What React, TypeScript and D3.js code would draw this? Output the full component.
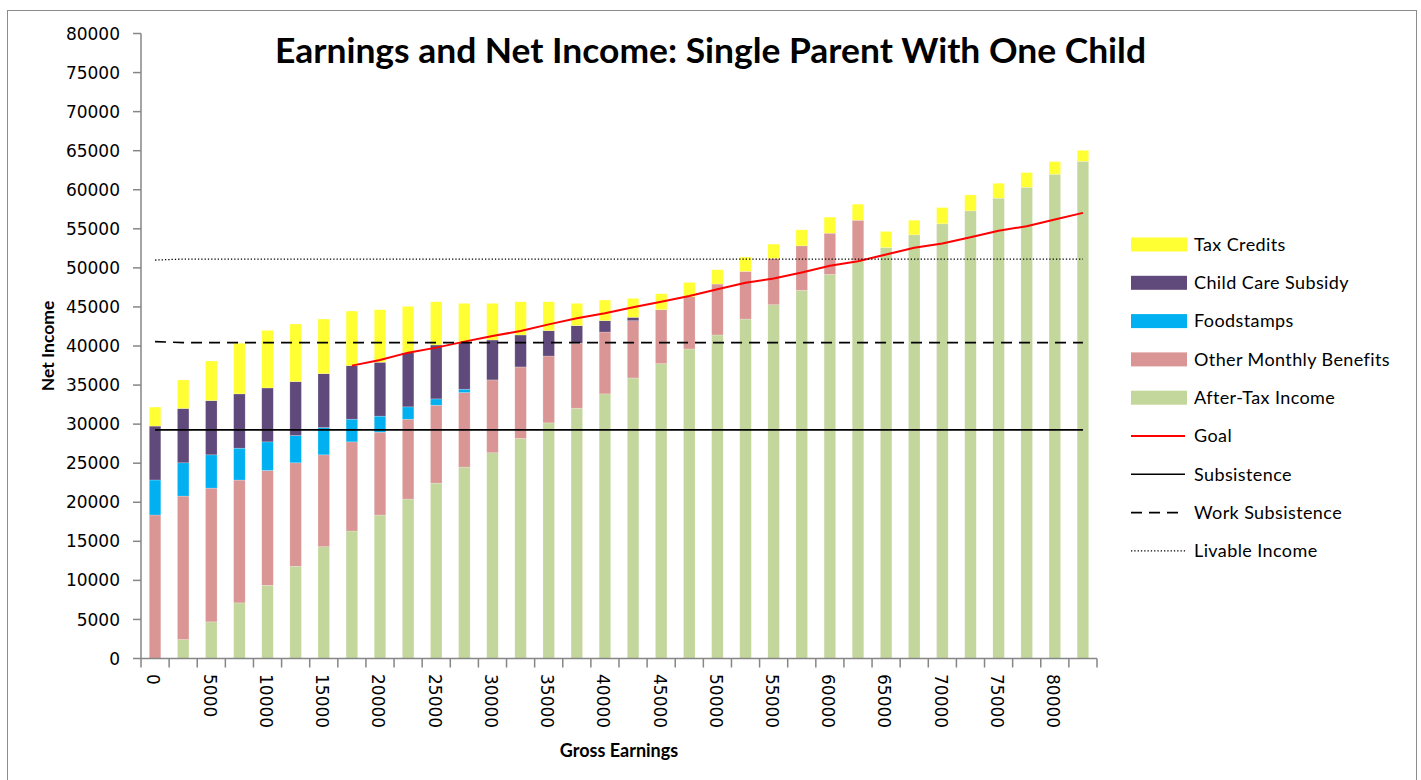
import React from 'react';
import * as d3 from 'd3';

// gross earnings categories
const earnings = [
  0, 2500, 5000, 7500, 10000, 12500, 15000, 17500, 20000, 22500, 25000, 27500,
  30000, 32500, 35000, 37500, 40000, 42500, 45000, 47500, 50000, 52500, 55000,
  57500, 60000, 62500, 65000, 67500, 70000, 72500, 75000, 77500, 80000, 82500
];

const xTickLabels = [
  0, 5000, 10000, 15000, 20000, 25000, 30000, 35000, 40000,
  45000, 50000, 55000, 60000, 65000, 70000, 75000, 80000
];

const yTicks = [
  0, 5000, 10000, 15000, 20000, 25000, 30000, 35000, 40000,
  45000, 50000, 55000, 60000, 65000, 70000, 75000, 80000
];

// stacked series, bottom to top
const afterTax = [
  0, 2430, 4690, 7120, 9370, 11800, 14310, 16320, 18360, 20410, 22450, 24500,
  26330, 28160, 30160, 32040, 33870, 35910, 37740, 39620, 41410, 43450, 45280,
  47120, 49160, 50950, 52610, 54230, 55640, 57300, 58920, 60320, 61980, 63640
];
const otherBenefits = [
  18370, 18360, 17120, 15720, 14700, 13250, 11760, 11410, 10610, 10220, 9970, 9540,
  9330, 9160, 8560, 8310, 7920, 7330, 6900, 6680, 6520, 6100, 5930,
  5700, 5280, 5150, 0, 0, 0, 0, 0, 0, 0, 0
];
const foodstamps = [
  4480, 4260, 4260, 4080, 3660, 3490, 3490, 2900, 2050, 1580, 810, 430,
  0, 0, 0, 0, 0, 0, 0, 0, 0, 0, 0,
  0, 0, 0, 0, 0, 0, 0, 0, 0, 0, 0
];
const childCare = [
  6900, 6950, 6940, 6950, 6900, 6900, 6900, 6860, 6900, 6940, 6900, 5960,
  5110, 4090, 3240, 2250, 1450, 430, 0, 0, 0, 0, 0,
  0, 0, 0, 0, 0, 0, 0, 0, 0, 0, 0
];
const taxCredits = [
  2430, 3650, 5070, 6480, 7370, 7370, 6990, 6980, 6720, 5930, 5530, 5030,
  4690, 4250, 3700, 2860, 2640, 2430, 2050, 1840, 1830, 1830, 1830,
  2050, 2050, 2050, 2050, 1870, 2080, 2040, 1910, 1880, 1620, 1410
];

// line series
const goal = [
  null, null, null, null, null, null, null, 37490, 38210, 39150, 39790, 40560,
  41280, 41920, 42770, 43540, 44180, 44950, 45660, 46390, 47270, 48100, 48650,
  49420, 50270, 50860, 51720, 52570, 53130, 53930, 54740, 55340, 56190, 57040
];
const subsistence = [
  29270, 29270, 29270, 29270, 29270, 29270, 29270, 29270, 29270, 29270, 29270, 29270,
  29270, 29270, 29270, 29270, 29270, 29270, 29270, 29270, 29270, 29270, 29270,
  29270, 29270, 29270, 29270, 29270, 29270, 29270, 29270, 29270, 29270, 29270
];
const workSubsistence = [
  40560, 40430, 40430, 40430, 40430, 40430, 40430, 40430, 40430, 40430, 40430, 40430,
  40430, 40430, 40430, 40430, 40430, 40430, 40430, 40430, 40430, 40430, 40430,
  40430, 40430, 40430, 40430, 40430, 40430, 40430, 40430, 40430, 40430, 40430
];
const livableIncome = [
  51000, 51130, 51130, 51130, 51130, 51130, 51130, 51130, 51130, 51130, 51130, 51130,
  51130, 51130, 51130, 51130, 51130, 51130, 51130, 51130, 51130, 51130, 51130,
  51130, 51130, 51130, 51130, 51130, 51130, 51130, 51130, 51130, 51130, 51130
];

const barSeries = [
  { key: 'afterTax', label: 'After-Tax Income', color: '#C3D69B', values: afterTax },
  { key: 'otherBenefits', label: 'Other Monthly Benefits', color: '#D99694', values: otherBenefits },
  { key: 'foodstamps', label: 'Foodstamps', color: '#00B0F0', values: foodstamps },
  { key: 'childCare', label: 'Child Care Subsidy', color: '#604A7B', values: childCare },
  { key: 'taxCredits', label: 'Tax Credits', color: '#FFFF33', values: taxCredits }
];

const lineSeries = [
  { label: 'Goal', values: goal, color: '#FF0000', width: 2, dash: '' },
  { label: 'Subsistence', values: subsistence, color: '#000', width: 1.6, dash: '' },
  { label: 'Work Subsistence', values: workSubsistence, color: '#000', width: 1.6, dash: '11,7' },
  { label: 'Livable Income', values: livableIncome, color: '#000', width: 1.3, dash: '1.3,2' }
];

const W = 1421;
const H = 780;
const plot = { left: 141, right: 1097, top: 33.5, bottom: 658.5 };
const axisColor = '#868686';
const tickFont = '"DejaVu Sans", Verdana, sans-serif';
const labelFont = 'Lato, "Open Sans", sans-serif';

const App: React.FC = () => {
  const x = d3.scaleBand<number>()
    .domain(earnings)
    .range([plot.left, plot.right])
    .paddingInner(0.59)
    .paddingOuter(0.295);
  const band = d3.scaleBand<number>().domain(earnings).range([plot.left, plot.right]);
  const y = d3.scaleLinear().domain([0, 80000]).range([plot.bottom, plot.top]);

  const rows = earnings.map((e, i) => {
    const r: any = { e };
    barSeries.forEach(s => { r[s.key] = s.values[i]; });
    return r;
  });
  const stacked = d3.stack<any>().keys(barSeries.map(s => s.key))(rows);

  const cx = (e: number) => (band(e) as number) + band.bandwidth() / 2;

  const legendItems = [...barSeries].reverse();
  const legendX = 1131;
  const legendY0 = 244.5;
  const legendStep = 38.3;

  return (
    <svg width={W} height={H} style={{ position: 'absolute', left: 0, top: 0, background: '#fff' }}>
      <rect x={7.5} y={10.5} width={1409} height={800} fill="#fff" stroke="#8c8c8c" strokeWidth={1} />

      <text x={710.5} y={63} textAnchor="middle" fontFamily={labelFont} fontWeight="bold"
        fontSize={35} textLength={871} lengthAdjust="spacingAndGlyphs">
        Earnings and Net Income: Single Parent With One Child
      </text>

      {/* bars */}
      {stacked.map((layer, li) => (
        <g key={layer.key} fill={barSeries[li].color}>
          {layer.map((d, i) => (
            d[1] - d[0] > 0 ? (
              <rect key={i} x={x(earnings[i])} width={x.bandwidth()}
                y={y(d[1])} height={y(d[0]) - y(d[1])}
                stroke="#ffffff" strokeOpacity={0.35} strokeWidth={0.6} />
            ) : null
          ))}
        </g>
      ))}

      {/* lines */}
      {lineSeries.map(s => {
        const line = d3.line<number | null>()
          .defined(v => v !== null)
          .x((_, i) => cx(earnings[i]))
          .y(v => y(v as number));
        return (
          <path key={s.label} d={line(s.values) || ''} fill="none" stroke={s.color}
            strokeWidth={s.width} strokeDasharray={s.dash || undefined} />
        );
      })}

      {/* y axis */}
      <line x1={plot.left} x2={plot.left} y1={plot.top} y2={plot.bottom} stroke={axisColor} strokeWidth={1.5} />
      {yTicks.map(t => (
        <g key={t}>
          <line x1={plot.left - 8} x2={plot.left} y1={y(t)} y2={y(t)} stroke={axisColor} strokeWidth={1.5} />
          <text x={120} y={y(t)} dy="0.36em" textAnchor="end" fontFamily={tickFont} fontSize={17}>{t}</text>
        </g>
      ))}

      {/* x axis */}
      <line x1={plot.left} x2={plot.right} y1={plot.bottom} y2={plot.bottom} stroke={axisColor} strokeWidth={1.5} />
      {earnings.map(e => (
        <line key={e} x1={band(e)} x2={band(e)} y1={plot.bottom} y2={plot.bottom + 9} stroke={axisColor} strokeWidth={1.5} />
      ))}
      <line x1={plot.right} x2={plot.right} y1={plot.bottom} y2={plot.bottom + 9} stroke={axisColor} strokeWidth={1.5} />
      {xTickLabels.map(t => (
        <text key={t} transform={`translate(${cx(t) - 1.5},674) rotate(90)`} dy="0.36em"
          textAnchor="start" fontFamily={tickFont} fontSize={17}>{t}</text>
      ))}

      <text x={619} y={757} textAnchor="middle" fontFamily={labelFont} fontWeight="bold" fontSize={18}>
        Gross Earnings
      </text>
      <text transform={`translate(54,346) rotate(-90)`} textAnchor="middle" fontFamily={labelFont}
        fontWeight="bold" fontSize={17.5}>
        Net Income
      </text>

      {/* legend */}
      {legendItems.map((s, i) => (
        <g key={s.key} transform={`translate(${legendX},${legendY0 + i * legendStep})`}>
          <rect x={0} y={-7} width={56} height={14} fill={s.color} />
          <text x={63} y={0} dy="0.35em" fontFamily={labelFont} fontSize={18} letterSpacing={0.4}>{s.label}</text>
        </g>
      ))}
      {lineSeries.map((s, i) => (
        <g key={s.label} transform={`translate(${legendX},${legendY0 + (i + 5) * legendStep})`}>
          <line x1={0} x2={54} y1={0} y2={0} stroke={s.color} strokeWidth={s.width}
            strokeDasharray={s.dash || undefined} />
          <text x={63} y={0} dy="0.35em" fontFamily={labelFont} fontSize={18} letterSpacing={0.4}>{s.label}</text>
        </g>
      ))}
    </svg>
  );
};

export default App;
